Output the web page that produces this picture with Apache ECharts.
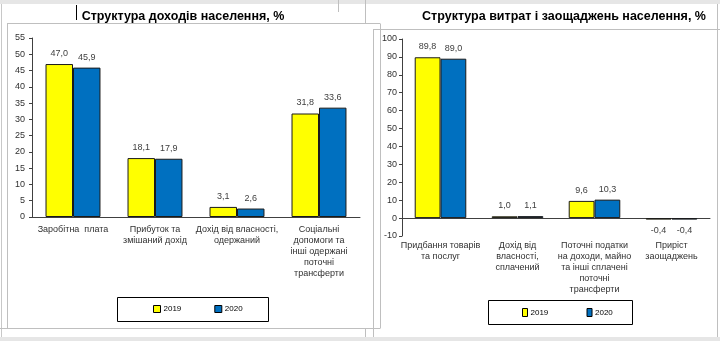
<!DOCTYPE html>
<html><head><meta charset="utf-8">
<script src="https://cdn.jsdelivr.net/npm/echarts@6/dist/echarts.min.js"></script>
<style>html,body{margin:0;padding:0;background:#fff}#c{width:720px;height:341px}</style>
</head><body><div id="c"></div>
<script>
const leftTitle = 'Структура доходів населення, %';
const rightTitle = 'Структура витрат і заощаджень населення, %';
const seriesNames = ['2019', '2020'];
const leftCategories = ['Заробітна  плата', 'Прибуток та\nзмішаний дохід', 'Дохід від власності,\nодержаний', 'Соціальні\nдопомоги та\nінші одержані\nпоточні\nтрансферти'];
const left2019 = [47.0, 18.1, 3.1, 31.8];
const left2020 = [45.9, 17.9, 2.6, 33.6];
const rightCategories = ['Придбання товарів\nта послуг', 'Дохід від\nвласності,\nсплачений', 'Поточні податки\nна доходи, майно\nта інші сплачені\nпоточні\nтрансферти', 'Приріст\nзаощаджень'];
const right2019 = [89.8, 1.0, 9.6, -0.4];
const right2020 = [89.0, 1.1, 10.3, -0.4];

const FONT = 'Liberation Sans';
const YELLOW = '#FFFF00', BLUE = '#0070C0';
const fmt = p => p.value.toFixed(1).replace('.', ',');
function mk(vals) {
  return vals.map(v => ({ value: v, label: { position: v < 0 ? 'bottom' : 'top' } }));
}
function bar(name, vals, color, xi, yi) {
  return {
    type: 'bar', name, data: mk(vals), xAxisIndex: xi, yAxisIndex: yi,
    barGap: '0%', barCategoryGap: '33%', z: 3, barMinHeight: 1.5,
    itemStyle: { color, borderColor: '#1a1a1a', borderWidth: 1 },
    label: { show: true, formatter: fmt, fontSize: 9, color: '#404040', fontFamily: FONT, distance: 6 },
    emphasis: { disabled: true }
  };
}
const axisText = { fontSize: 9, color: '#303030', fontFamily: FONT };
const line = (x1, y1, x2, y2, c, w) => ({ type: 'line', shape: { x1, y1, x2, y2 }, style: { stroke: c || '#bfbfbf', lineWidth: w || 1 }, silent: true });

const chart = echarts.init(document.getElementById('c'), null, { renderer: 'canvas' });
chart.setOption({
  animation: false,
  textStyle: { fontFamily: FONT },
  title: [
    { text: leftTitle, left: 178, top: 5, textAlign: 'center', textStyle: { fontSize: 12.5, fontWeight: 'bold', color: '#000', fontFamily: FONT } },
    { text: rightTitle, left: 559, top: 5, textAlign: 'center', textStyle: { fontSize: 12.5, fontWeight: 'bold', color: '#000', fontFamily: FONT } }
  ],
  legend: [
    { data: seriesNames.map(n => ({ name: n })), left: 153, top: 305, itemWidth: 7, itemHeight: 7, itemGap: 33, icon: 'rect',
      textStyle: { fontSize: 8, color: '#000', fontFamily: FONT, padding: [0, 0, 0, -2] }, padding: 0, selectedMode: false,
      itemStyle: { borderColor: '#000', borderWidth: 1 } },
    { data: seriesNames.map(n => ({ name: n + ' ' })), left: 522, top: 308, itemWidth: 5, itemHeight: 8, itemGap: 36, icon: 'rect',
      textStyle: { fontSize: 8, color: '#000', fontFamily: FONT, padding: [0, 0, 0, -2] }, padding: 0, selectedMode: false,
      itemStyle: { borderColor: '#000', borderWidth: 1 } }
  ],
  grid: [
    { left: 32, top: 38, width: 328, height: 179, containLabel: false },
    { left: 402, top: 39, width: 308, height: 197, containLabel: false }
  ],
  xAxis: [
    { type: 'category', gridIndex: 0, data: leftCategories, axisTick: { show: false },
      axisLine: { lineStyle: { color: '#404040', width: 1 } },
      axisLabel: Object.assign({ interval: 0, margin: 7, lineHeight: 11 }, axisText) },
    { type: 'category', gridIndex: 1, data: rightCategories, axisTick: { show: false }, z: 1,
      axisLine: { onZero: true, lineStyle: { color: '#404040', width: 1 } },
      axisLabel: { show: false } },
    { type: 'category', gridIndex: 1, data: rightCategories, position: 'bottom', axisTick: { show: false },
      axisLine: { show: false, onZero: false },
      axisLabel: Object.assign({ interval: 0, margin: 4, lineHeight: 11 }, axisText) }
  ],
  yAxis: [
    { type: 'value', gridIndex: 0, min: 0, max: 55, interval: 5, splitLine: { show: false },
      axisLine: { show: true, lineStyle: { color: '#404040' } }, axisTick: { show: true, length: 3, lineStyle: { color: '#404040' } },
      axisLabel: Object.assign({ margin: 7 }, axisText) },
    { type: 'value', gridIndex: 1, min: -10, max: 100, interval: 10, splitLine: { show: false },
      axisLine: { show: true, onZero: false, lineStyle: { color: '#404040' } }, axisTick: { show: true, length: 3, lineStyle: { color: '#404040' } },
      axisLabel: Object.assign({ margin: 5 }, axisText) }
  ],
  series: [
    bar(seriesNames[0], left2019, YELLOW, 0, 0),
    bar(seriesNames[1], left2020, BLUE, 0, 0),
    bar(seriesNames[0] + ' ', right2019, YELLOW, 1, 1),
    bar(seriesNames[1] + ' ', right2020, BLUE, 1, 1)
  ],
  graphic: [
    { type: 'rect', shape: { x: 0, y: 0, width: 720, height: 4 }, style: { fill: '#e6e6e6' }, silent: true },
    line(1.5, 4, 1.5, 337, '#c8c8c8', 1),
    line(7.5, 23.5, 7.5, 328, '#bfbfbf'),
    line(7, 23.5, 380, 23.5, '#bfbfbf'),
    line(380.5, 23.5, 380.5, 328.5, '#bfbfbf'),
    line(0, 328.5, 380, 328.5, '#bfbfbf'),
    line(365.5, 0, 365.5, 23, '#bfbfbf'),
    line(365.5, 329, 365.5, 341, '#bfbfbf'),
    line(76.5, 5, 76.5, 20, '#000', 1),
    line(373.5, 29.5, 373.5, 341, '#bfbfbf'),
    line(373, 29.5, 720, 29.5, '#bfbfbf'),
    line(717.5, 4, 717.5, 337, '#bfbfbf'),
    line(338.5, 0, 338.5, 12, '#bfbfbf'),
    { type: 'rect', shape: { x: 0, y: 337, width: 720, height: 4 }, style: { fill: '#e6e6e6' }, silent: true },
    { type: 'rect', shape: { x: 117.5, y: 297.5, width: 151, height: 24 }, style: { fill: 'none', stroke: '#000', lineWidth: 1 }, silent: true, z: -1 },
    { type: 'rect', shape: { x: 488.5, y: 300.5, width: 144, height: 24 }, style: { fill: 'none', stroke: '#000', lineWidth: 1 }, silent: true, z: -1 }
  ]
});
</script></body></html>
